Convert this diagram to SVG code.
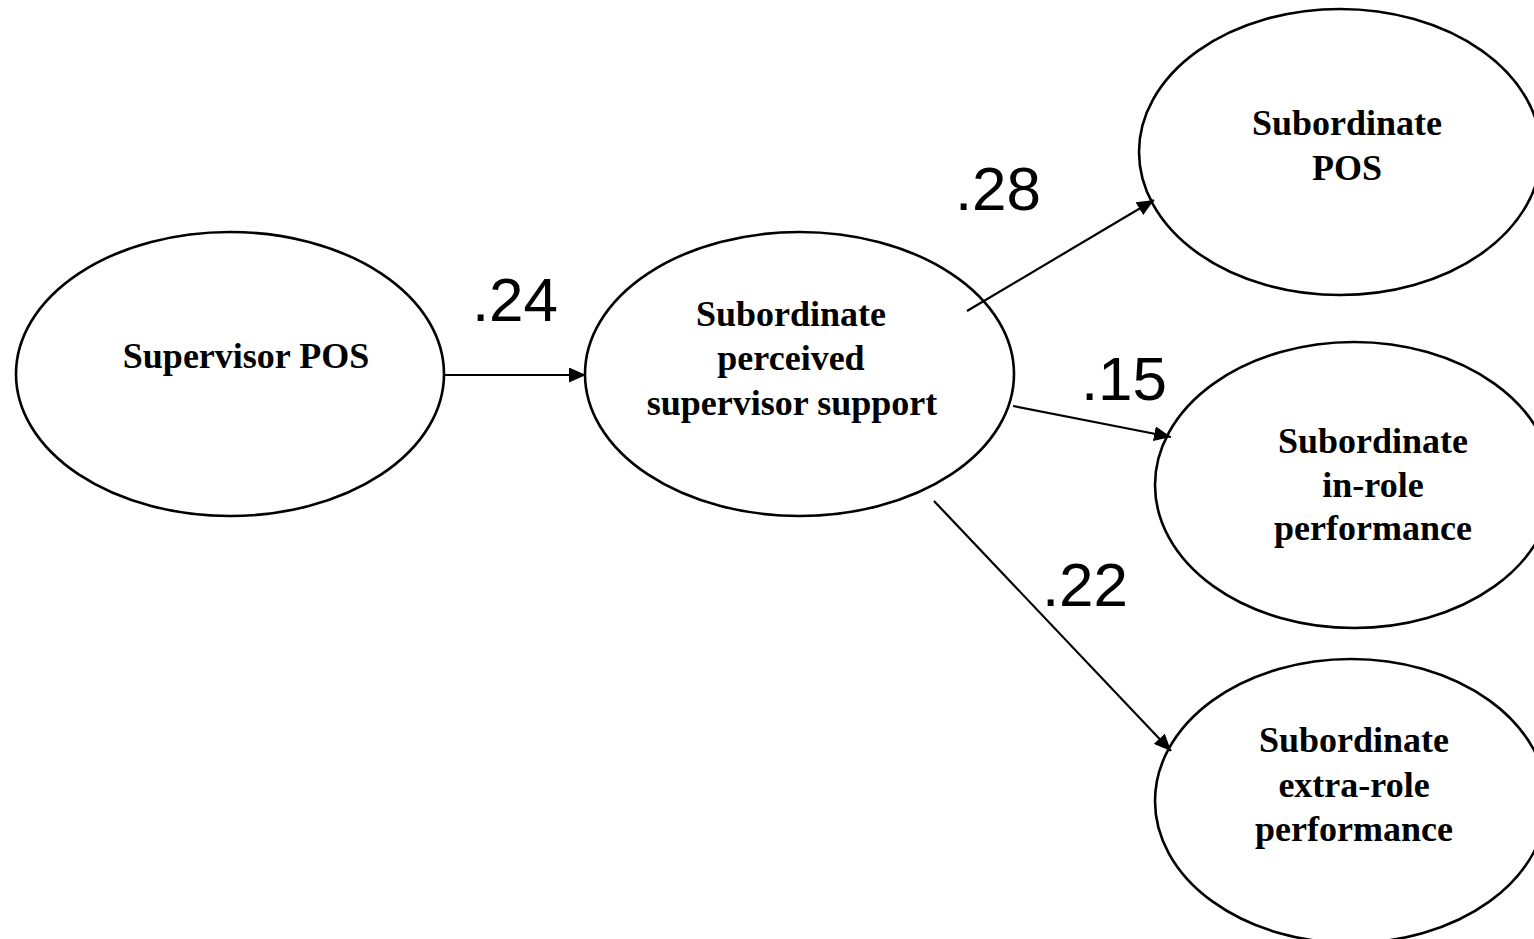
<svg xmlns="http://www.w3.org/2000/svg" width="1534" height="939" viewBox="0 0 1534 939">
<style>
.node ellipse{fill:#fff;stroke:#000;stroke-width:2.6}
.node text{font-family:"Liberation Serif","Times New Roman",serif;font-weight:bold;font-size:36px;fill:#000;text-anchor:middle}
.conn line{stroke:#000;stroke-width:2.2}
.lbl{font-family:"Liberation Sans",Arial,sans-serif;font-size:62px;fill:#000;text-anchor:middle}
</style>
<defs>
<marker id="arr" markerUnits="userSpaceOnUse" markerWidth="17" markerHeight="15" refX="17" refY="7.5" orient="auto">
<path d="M0,0 L17,7.5 L0,15 z" fill="#000"/>
</marker>
</defs>
<rect width="1534" height="939" fill="#fff"/>
<g id="n-supervisor-pos" class="node">
<ellipse cx="230" cy="374" rx="214" ry="142"/>
<text x="246" y="368">Supervisor POS</text>
</g>
<g id="n-perceived-support" class="node">
<ellipse cx="799.5" cy="374" rx="214.5" ry="142"/>
<text x="791" y="326">Subordinate</text>
<text x="791" y="370">perceived</text>
<text x="792" y="415">supervisor support</text>
</g>
<g id="n-sub-pos" class="node">
<ellipse cx="1340" cy="152" rx="201" ry="143"/>
<text x="1347" y="135">Subordinate</text>
<text x="1347" y="180">POS</text>
</g>
<g id="n-in-role" class="node">
<ellipse cx="1354" cy="485" rx="199" ry="143"/>
<text x="1373" y="453">Subordinate</text>
<text x="1373" y="497">in-role</text>
<text x="1373" y="540">performance</text>
</g>
<g id="n-extra-role" class="node">
<ellipse cx="1351" cy="801" rx="196" ry="142"/>
<text x="1354" y="752">Subordinate</text>
<text x="1354" y="797">extra-role</text>
<text x="1354" y="841">performance</text>
</g>
<g id="connectors" class="conn">
<line x1="445" y1="375" x2="586" y2="375" marker-end="url(#arr)"/>
<line x1="967" y1="311" x2="1154" y2="200" marker-end="url(#arr)"/>
<line x1="1013" y1="406" x2="1171" y2="437" marker-end="url(#arr)"/>
<line x1="934" y1="501" x2="1171" y2="751" marker-end="url(#arr)"/>
</g>
<g id="labels">
<text class="lbl" x="515" y="321">.24</text>
<text class="lbl" x="998" y="210">.28</text>
<text class="lbl" x="1124" y="400">.15</text>
<text class="lbl" x="1085" y="606">.22</text>
</g>
</svg>
